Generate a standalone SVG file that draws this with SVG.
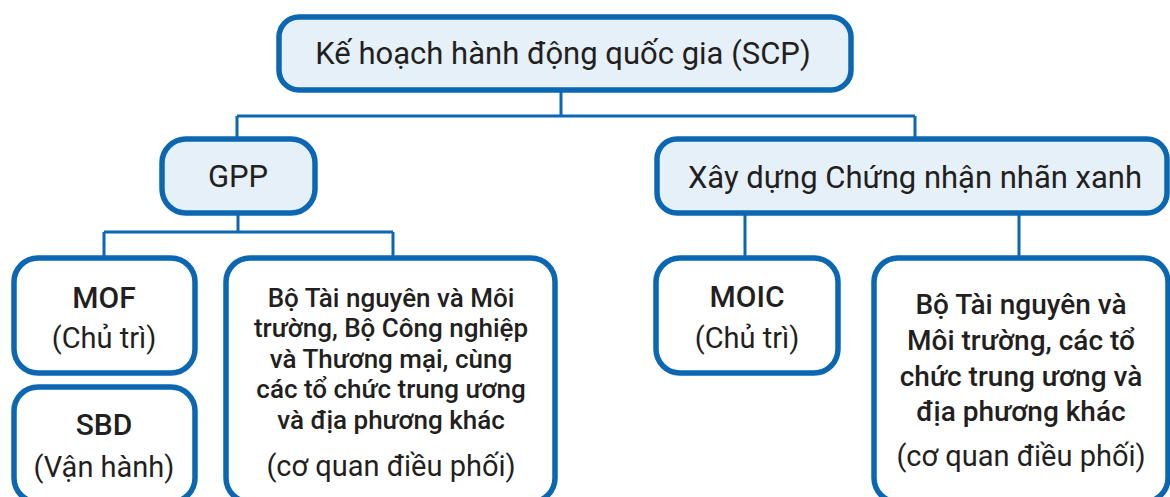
<svg xmlns="http://www.w3.org/2000/svg" width="1170" height="497" viewBox="0 0 1170 497">
<style>
.box{fill:#ffffff;stroke:#0b67b1;stroke-width:5.5}
.hl{fill:#e5f0f8}
.t{font-family:Roboto,"Noto Sans",sans-serif;fill:#231f20;text-anchor:middle}
.h{font-size:31px;font-weight:400}
.b{font-size:30px;font-weight:500}
.s{font-size:29px;font-weight:400}
.m{font-size:26px;font-weight:500}
.m2{font-size:28px;font-weight:500}
.c{fill:none;stroke:#0b67b1;stroke-width:3}
</style>
<rect width="1170" height="497" fill="#ffffff"/>
<g id="connectors">
<path class="c" d="M561 90V116M237 116H915M237 116V139M915 116V139"/>
<path class="c" d="M238 213V232M104 232H393M104 232V258M393 232V258"/>
<path class="c" d="M745 213V258M1019 213V258"/>
</g>
<g id="scp">
<rect class="box hl" x="279" y="17" width="572" height="73" rx="20"/>
<text class="t h" x="563" y="64">Kế hoạch hành động quốc gia (SCP)</text>
</g>
<g id="gpp">
<rect class="box hl" x="162" y="139" width="153" height="74" rx="24"/>
<text class="t h" x="238" y="187">GPP</text>
</g>
<g id="green">
<rect class="box hl" x="657" y="139" width="510" height="74" rx="20"/>
<text class="t h" x="915" y="188">Xây dựng Chứng nhận nhãn xanh</text>
</g>
<g id="mof">
<rect class="box" x="14" y="258" width="181" height="115" rx="24"/>
<text class="t b" x="104" y="308">MOF</text>
<text class="t s" x="104" y="348">(Chủ trì)</text>
</g>
<g id="sbd">
<rect class="box" x="14" y="387" width="181" height="115" rx="24"/>
<text class="t b" x="104" y="435">SBD</text>
<text class="t s" x="104" y="477">(Vận hành)</text>
</g>
<g id="coord-gpp">
<rect class="box" x="226" y="258" width="329" height="244" rx="24"/>
<text class="t m" x="391" y="307">Bộ Tài nguyên và Môi</text>
<text class="t m" x="391" y="337">trường, Bộ Công nghiệp</text>
<text class="t m" x="391" y="368">và Thương mại, cùng</text>
<text class="t m" x="391" y="398">các tổ chức trung ương</text>
<text class="t m" x="391" y="429">và địa phương khác</text>
<text class="t s" x="391" y="476">(cơ quan điều phối)</text>
</g>
<g id="moic">
<rect class="box" x="656" y="258" width="182" height="115" rx="24"/>
<text class="t b" x="747" y="307">MOIC</text>
<text class="t s" x="747" y="348">(Chủ trì)</text>
</g>
<g id="coord-green">
<rect class="box" x="874" y="258" width="294" height="244" rx="24"/>
<text class="t m2" x="1021" y="314">Bộ Tài nguyên và</text>
<text class="t m2" x="1021" y="350">Môi trường, các tổ</text>
<text class="t m2" x="1021" y="386">chức trung ương và</text>
<text class="t m2" x="1021" y="421">địa phương khác</text>
<text class="t s" x="1021" y="466">(cơ quan điều phối)</text>
</g>
</svg>
